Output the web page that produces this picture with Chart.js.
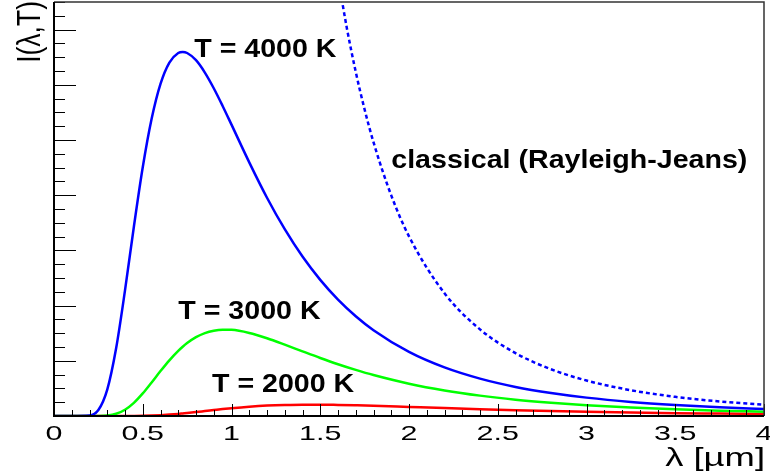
<!DOCTYPE html>
<html>
<head>
<meta charset="utf-8">
<script src="https://cdn.jsdelivr.net/npm/chart.js@4"></script>
<style>
  html, body { margin: 0; padding: 0; background: #fff; }
  #wrap { width: 770px; height: 473px; position: relative; }
</style>
</head>
<body>
<div id="wrap"><canvas id="planck"></canvas></div>
<script>
// wavelength in um, intensity in arbitrary units
const lambda = [0, 0.1, 0.2, 0.25, 0.3, 0.35, 0.4, 0.45, 0.5, 0.55, 0.6, 0.65, 0.7, 0.725, 0.75, 0.8, 0.85, 0.9, 0.95, 1.0,
                1.1, 1.2, 1.3, 1.4, 1.5, 1.6, 1.7, 1.8, 2.0, 2.2, 2.4, 2.6, 2.8, 3.0, 3.25, 3.5, 3.75, 4.0];
const t4000 = [0, 0, 0.009, 0.108, 0.478, 1.227, 2.275, 3.429, 4.505, 5.383, 6.016, 6.403, 6.576, 6.595, 6.576, 6.446, 6.222, 5.938, 5.617, 5.278,
               4.595, 3.954, 3.384, 2.888, 2.466, 2.109, 1.808, 1.555, 1.161, 0.880, 0.677, 0.527, 0.417, 0.333, 0.255, 0.199, 0.157, 0.125];
const t3000 = [0, 0, 0, 0.001, 0.009, 0.040, 0.114, 0.239, 0.409, 0.608, 0.814, 1.009, 1.180, 1.255, 1.321, 1.428, 1.502, 1.546, 1.564, 1.561,
               1.505, 1.409, 1.293, 1.171, 1.051, 0.938, 0.835, 0.742, 0.585, 0.463, 0.369, 0.296, 0.240, 0.195, 0.153, 0.121, 0.097, 0.079];
const t2000 = [0, 0, 0, 0, 0, 0, 0.0003, 0.001, 0.003, 0.008, 0.015, 0.025, 0.038, 0.046, 0.054, 0.071, 0.089, 0.107, 0.125, 0.141,
               0.168, 0.188, 0.200, 0.206, 0.206, 0.201, 0.194, 0.186, 0.165, 0.144, 0.124, 0.106, 0.090, 0.077, 0.063, 0.052, 0.044, 0.036];

const rjLambda = [1.6, 1.65, 1.7, 1.75, 1.8, 1.9, 2.0, 2.2, 2.4, 2.6, 2.8, 3.0, 3.25, 3.5, 3.75, 4.0];
const rj4000   = [7.945, 7.025, 6.234, 5.552, 4.960, 3.996, 3.254, 2.223, 1.569, 1.139, 0.847, 0.643, 0.467, 0.347, 0.263, 0.203];

const xTickLabels = ['0', '0.5', '1', '1.5', '2', '2.5', '3', '3.5', '4'];
const xTitle = 'λ [µm]';
const yTitle = 'I(λ,T)';

// curve labels, placed in data coordinates
const notes = [
    { text: 'T = 4000 K', x: 0.79, y: 6.50 },
    { text: 'classical (Rayleigh-Jeans)', x: 1.90, y: 4.49 },
    { text: 'T = 3000 K', x: 0.70, y: 1.76 },
    { text: 'T = 2000 K', x: 0.89, y: 0.43 }
];

function pts(xs, ys) {
    return xs.map((x, i) => ({ x: x, y: ys[i] }));
}

function wideText(ctx, text, x, y, font, sx, align) {
    ctx.save();
    ctx.font = font;
    ctx.fillStyle = '#000';
    ctx.textAlign = align;
    ctx.textBaseline = 'alphabetic';
    ctx.translate(x, y);
    ctx.scale(sx, 1);
    ctx.fillText(text, 0, 0);
    ctx.restore();
}

// ROOT style frame, inward ticks and text
const rootFrame = {
    id: 'rootFrame',
    afterDraw(chart) {
        const ctx = chart.ctx;
        const a = chart.chartArea;
        const xs = chart.scales.x;
        const ys = chart.scales.y;

        ctx.save();
        ctx.strokeStyle = '#000';
        ctx.lineWidth = 1;
        ctx.beginPath();
        for (let i = 0; i <= 40; i++) {
            const px = Math.round(xs.getPixelForValue(i / 10)) + 0.5;
            const len = i % 5 === 0 ? 12 : 6;
            ctx.moveTo(px, a.bottom);
            ctx.lineTo(px, a.bottom - len);
        }
        for (let i = 0; i <= 30; i++) {
            const py = Math.round(ys.getPixelForValue(i / 4)) + 0.5;
            const len = i % 4 === 0 ? 22 : 11;
            ctx.moveTo(a.left, py);
            ctx.lineTo(a.left + len, py);
        }
        ctx.stroke();

        // frame
        ctx.strokeStyle = '#333';
        ctx.lineWidth = 1.5;
        ctx.beginPath();
        ctx.moveTo(a.left, a.top);
        ctx.lineTo(a.right, a.top);
        ctx.lineTo(a.right, a.bottom);
        ctx.stroke();
        ctx.strokeStyle = '#000';
        ctx.lineWidth = 2;
        ctx.beginPath();
        ctx.moveTo(a.left, a.top);
        ctx.lineTo(a.left, a.bottom);
        ctx.lineTo(a.right, a.bottom);
        ctx.stroke();
        ctx.restore();

        xTickLabels.forEach(lab => {
            const px = xs.getPixelForValue(parseFloat(lab));
            wideText(ctx, lab, px, a.bottom + 24, '21px "Liberation Sans", Arial, sans-serif', 1.45, 'center');
        });
        wideText(ctx, xTitle, a.right + 1, a.bottom + 50, '26px "Liberation Sans", Arial, sans-serif', 1.4, 'right');

        // y title, rotated, ends at the top of the axis
        ctx.save();
        ctx.font = '34px "Liberation Sans", Arial, sans-serif';
        ctx.fillStyle = '#000';
        ctx.textAlign = 'right';
        ctx.textBaseline = 'alphabetic';
        ctx.translate(40, a.top - 1);
        ctx.rotate(-Math.PI / 2);
        ctx.scale(0.78, 1);
        ctx.fillText(yTitle, 0, 0);
        ctx.restore();

        notes.forEach(n => {
            wideText(ctx, n.text, xs.getPixelForValue(n.x), ys.getPixelForValue(n.y),
                'bold 26px "Liberation Sans", Arial, sans-serif', 1.1, 'left');
        });
    }
};

new Chart(document.getElementById('planck'), {
    type: 'line',
    data: {
        datasets: [
            {
                label: 'T = 4000 K',
                data: pts(lambda, t4000),
                borderColor: '#0000ff',
                borderWidth: 2.5
            },
            {
                label: 'T = 3000 K',
                data: pts(lambda, t3000),
                borderColor: '#00ff00',
                borderWidth: 2.5
            },
            {
                label: 'T = 2000 K',
                data: pts(lambda, t2000),
                borderColor: '#ff0000',
                borderWidth: 2.5
            },
            {
                label: 'classical (Rayleigh-Jeans)',
                data: pts(rjLambda, rj4000),
                borderColor: '#0000ff',
                borderWidth: 2.5,
                borderDash: [4, 3]
            }
        ]
    },
    options: {
        responsive: true,
        maintainAspectRatio: false,
        animation: false,
        layout: { padding: { left: 54, right: 6, top: 2, bottom: 57 } },
        elements: {
            point: { radius: 0 },
            line: { cubicInterpolationMode: 'monotone', fill: false }
        },
        plugins: {
            legend: { display: false },
            tooltip: { enabled: false }
        },
        scales: {
            x: { type: 'linear', min: 0, max: 4, display: false },
            y: { type: 'linear', min: 0, max: 7.5, display: false }
        }
    },
    plugins: [rootFrame]
});
</script>
</body>
</html>
